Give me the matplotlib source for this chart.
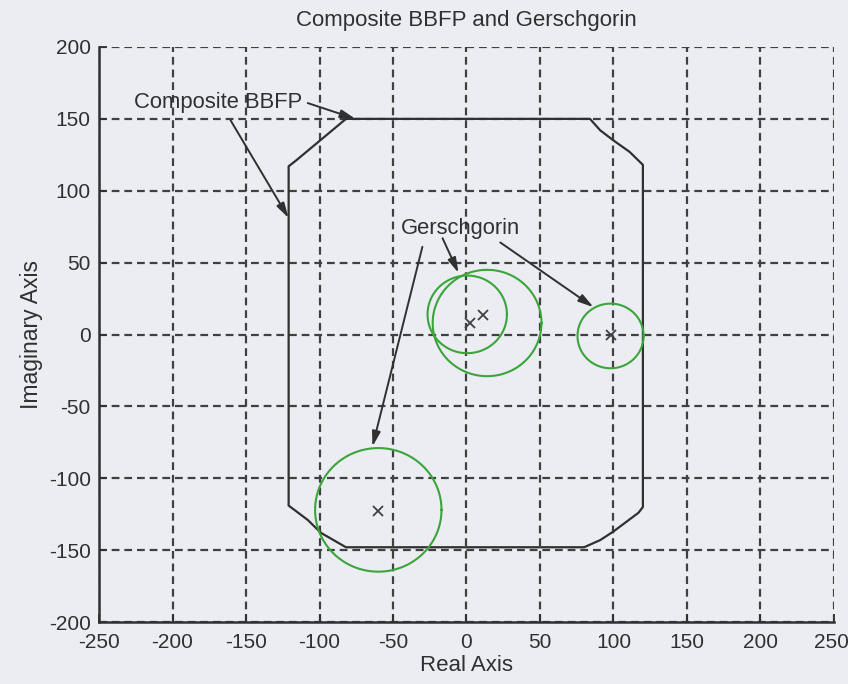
import matplotlib
matplotlib.use("Agg")
import matplotlib.pyplot as plt
import matplotlib.transforms as mtransforms
import numpy as np

# Composite BBFP boundary (real, imaginary)
bbfp_re = [-82, 84, 91, 100, 111, 120, 120, 117, 100, 91, 80, -82, -99, -108, -121, -121, -116, -82]
bbfp_im = [150, 150, 142, 135, 127, 118, -120, -124, -137, -143, -148, -148, -138, -129, -119, 117, 121, 150]

# Gerschgorin discs: centres and radii
disc_re = [-60, 98, 0.5, 14]
disc_im = [-122, -1, 14, 8]
disc_r = [43, 22.5, 27, 37]

# Eigenvalues
eig_re = [-60, 98, 2.7, 11.5]
eig_im = [-123, 0, 8, 13.5]

xticks = [-250, -200, -150, -100, -50, 0, 50, 100, 150, 200, 250]
yticks = [-200, -150, -100, -50, 0, 50, 100, 150, 200]

bg = "#ecedf2"
ink = "#303030"
family = ["Liberation Sans", "DejaVu Sans"]

fig = plt.figure(figsize=(8.48, 6.84), dpi=100, facecolor=bg)
ax = fig.add_axes([99 / 848, 62 / 684, 735 / 848, 575 / 684])
ax.set_facecolor(bg)

ax.set_xlim(-250, 250)
ax.set_ylim(-200, 200)
ax.set_xticks(xticks)
ax.set_yticks(yticks)
ax.set_xticklabels([str(v) for v in xticks], family=family, fontsize=15, color=ink)
ax.set_yticklabels([str(v) for v in yticks], family=family, fontsize=15, color=ink)
ax.tick_params(direction="in", length=6, width=1.3, color=ink, pad=6)
ax.tick_params(axis="x", pad=8)

# keep the rightmost tick label inside the figure
last = ax.get_xticklabels()[-1]
last.set_transform(last.get_transform() +
                   mtransforms.ScaledTranslation(-3 / 100, 0, fig.dpi_scale_trans))

ax.grid(True, color="#404040", linewidth=1.6, linestyle=(0, (3.5, 2.2)))
ax.set_axisbelow(True)
for side in ("top", "right"):
    ax.spines[side].set_visible(False)
for side in ("left", "bottom"):
    ax.spines[side].set_linewidth(1.8)
    ax.spines[side].set_color(ink)

# BBFP boundary
ax.plot(bbfp_re, bbfp_im, color=ink, linewidth=1.6, zorder=3)

# Gerschgorin discs
t = np.linspace(0, 2 * np.pi, 200)
for cr, ci, r in zip(disc_re, disc_im, disc_r):
    ax.plot(cr + r * np.cos(t), ci + r * np.sin(t), color="#3aa53a", linewidth=1.5, zorder=4)

# Eigenvalues
ax.plot(eig_re, eig_im, linestyle="none", marker="x", markersize=7,
        markeredgewidth=1.3, color="#404040", zorder=5)

arrow = dict(arrowstyle="-|>,head_length=0.9,head_width=0.25", color=ink,
             linewidth=1.4, shrinkA=0, shrinkB=0)

ax.text(-169, 161.5, "Composite BBFP", family=family, fontsize=15.8, color=ink,
        ha="center", va="center", zorder=6)
ax.annotate("", xy=(-75.5, 150), xytext=(-108, 161), arrowprops=arrow, zorder=6)
ax.annotate("", xy=(-121, 81), xytext=(-160.5, 149), arrowprops=arrow, zorder=6)

ax.text(-4, 74, "Gerschgorin", family=family, fontsize=15.8, color=ink,
        ha="center", va="center", zorder=6)
ax.annotate("", xy=(-5.4, 42.8), xytext=(-16.3, 67), arrowprops=arrow, zorder=6)
ax.annotate("", xy=(86.4, 19), xytext=(23, 64), arrowprops=arrow, zorder=6)
ax.annotate("", xy=(-64, -78), xytext=(-30, 61), arrowprops=arrow, zorder=6)

ax.set_title("Composite BBFP and Gerschgorin", family=family, fontsize=16,
             color=ink, pad=15)
ax.set_xlabel("Real Axis", family=family, fontsize=16, color=ink, labelpad=2)
ax.set_ylabel("Imaginary Axis", family=family, fontsize=16.5, color=ink, labelpad=4)

fig.savefig("out.png", dpi=100, facecolor=bg)
